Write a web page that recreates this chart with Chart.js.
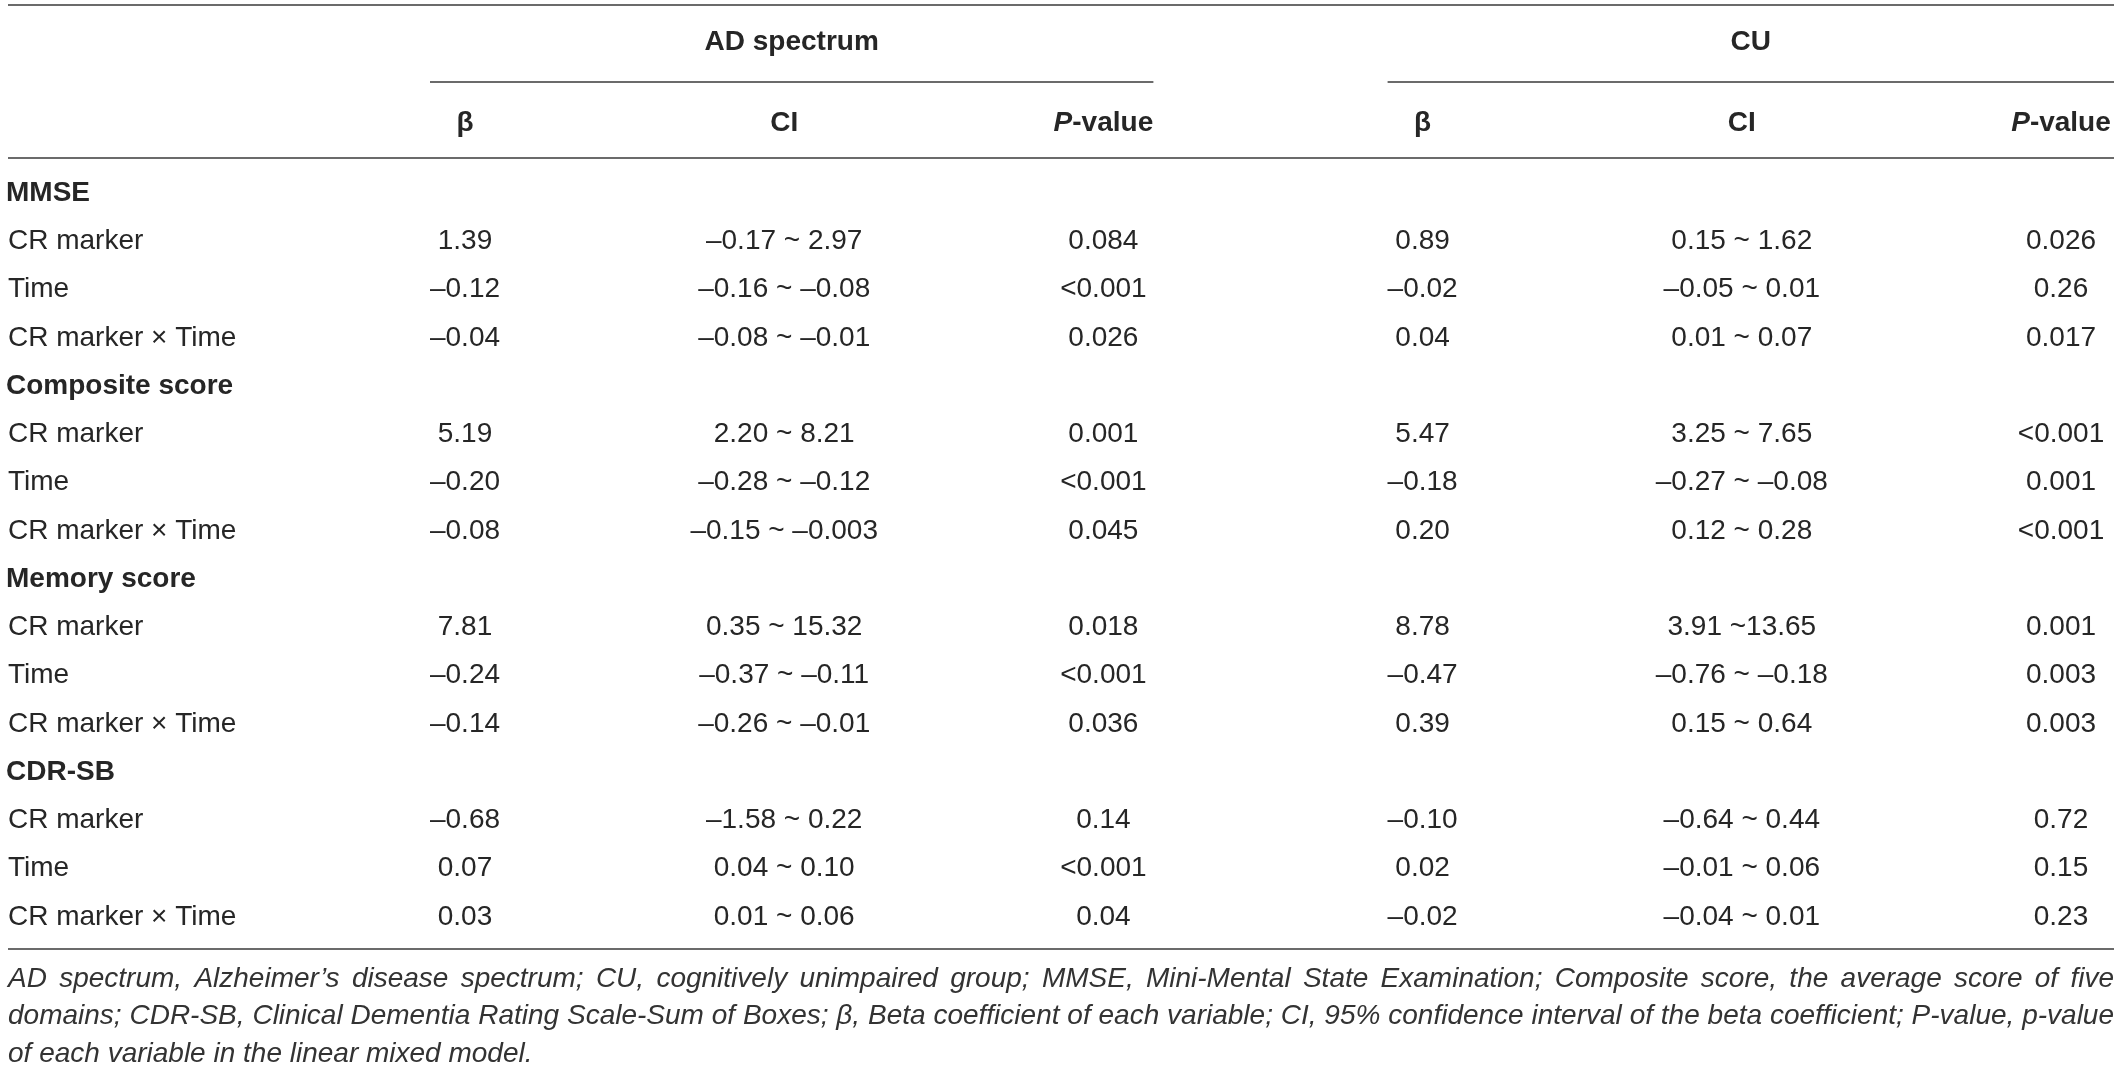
<!DOCTYPE html>
<html>
<head>
<meta charset="utf-8">
<script src="https://cdn.jsdelivr.net/npm/chart.js@4.4.0/dist/chart.umd.min.js"></script>
<style>
html, body { margin: 0; padding: 0; background: #ffffff; }
#wrap { position: relative; width: 2120px; height: 1068px; }
</style>
</head>
<body>
<div id="wrap"><canvas id="c"></canvas></div>
<script>
// ---------------- data ----------------
const groupHeaders = ['AD spectrum', 'CU'];
const columnKeys = ['AD β', 'AD CI', 'AD P', 'CU β', 'CU CI', 'CU P'];
const columnHeaders = ['β', 'CI', 'P-value', 'β', 'CI', 'P-value'];
const sectionLabels = ['MMSE', 'Composite score', 'Memory score', 'CDR-SB'];
const rowLabels = [
  'MMSE', 'CR marker', 'Time', 'CR marker × Time',
  'Composite score', 'CR marker', 'Time', 'CR marker × Time',
  'Memory score', 'CR marker', 'Time', 'CR marker × Time',
  'CDR-SB', 'CR marker', 'Time', 'CR marker × Time'
];
const adBeta = ['', '1.39', '–0.12', '–0.04', '', '5.19', '–0.20', '–0.08', '', '7.81', '–0.24', '–0.14', '', '–0.68', '0.07', '0.03'];
const adCI = ['', '–0.17 ~ 2.97', '–0.16 ~ –0.08', '–0.08 ~ –0.01', '', '2.20 ~ 8.21', '–0.28 ~ –0.12', '–0.15 ~ –0.003', '', '0.35 ~ 15.32', '–0.37 ~ –0.11', '–0.26 ~ –0.01', '', '–1.58 ~ 0.22', '0.04 ~ 0.10', '0.01 ~ 0.06'];
const adP = ['', '0.084', '<0.001', '0.026', '', '0.001', '<0.001', '0.045', '', '0.018', '<0.001', '0.036', '', '0.14', '<0.001', '0.04'];
const cuBeta = ['', '0.89', '–0.02', '0.04', '', '5.47', '–0.18', '0.20', '', '8.78', '–0.47', '0.39', '', '–0.10', '0.02', '–0.02'];
const cuCI = ['', '0.15 ~ 1.62', '–0.05 ~ 0.01', '0.01 ~ 0.07', '', '3.25 ~ 7.65', '–0.27 ~ –0.08', '0.12 ~ 0.28', '', '3.91 ~13.65', '–0.76 ~ –0.18', '0.15 ~ 0.64', '', '–0.64 ~ 0.44', '–0.01 ~ 0.06', '–0.04 ~ 0.01'];
const cuP = ['', '0.026', '0.26', '0.017', '', '<0.001', '0.001', '<0.001', '', '0.001', '0.003', '0.003', '', '0.72', '0.15', '0.23'];
const footnoteLines = [
  'AD spectrum, Alzheimer’s disease spectrum; CU, cognitively unimpaired group; MMSE, Mini-Mental State Examination; Composite score, the average score of five',
  'domains; CDR-SB, Clinical Dementia Rating Scale-Sum of Boxes; β, Beta coefficient of each variable; CI, 95% confidence interval of the beta coefficient; P-value, p-value',
  'of each variable in the linear mixed model.'
];

const columnData = [adBeta, adCI, adP, cuBeta, cuCI, cuP];
const rowKeys = rowLabels.map((l, i) => 'r' + i + ' ' + l);

// ---------------- styles ----------------
const FONT = '"Liberation Sans", Arial, Helvetica, sans-serif';
const TEXT = '#262626';
const RULE = '#6b6b6b';

const tablePlugin = {
  id: 'tablePlugin',
  beforeDraw(chart) {
    const ctx = chart.ctx;
    ctx.save();
    ctx.fillStyle = '#ffffff';
    ctx.fillRect(0, 0, chart.width, chart.height);
    ctx.restore();
  },
  afterDatasetsDraw(chart) {
    const ctx = chart.ctx;
    const xs = chart.scales.x;
    const ys = chart.scales.y;
    const area = chart.chartArea;
    const tableLeft = area.left - 457;
    const tableRight = area.right + 53;
    ctx.save();

    // horizontal rules
    ctx.strokeStyle = RULE;
    ctx.lineWidth = 2;
    const hline = (x1, x2, y) => {
      ctx.beginPath(); ctx.moveTo(x1, y); ctx.lineTo(x2, y); ctx.stroke();
    };
    hline(tableLeft, tableRight, area.top - 164);
    hline(tableLeft, tableRight, area.top - 11);
    hline(tableLeft, tableRight, area.bottom + 8);
    const groupSpan = gi => {
      const x1 = xs.getPixelForValue(gi * 3) - 35;
      const x2 = gi === groupHeaders.length - 1 ? tableRight : xs.getPixelForValue(gi * 3 + 2) + 50;
      return [x1, x2];
    };
    groupHeaders.forEach((g, gi) => {
      const [x1, x2] = groupSpan(gi);
      hline(x1, x2, area.top - 87);
    });

    ctx.fillStyle = TEXT;
    ctx.textBaseline = 'middle';

    // group headers
    ctx.font = 'bold 28px ' + FONT;
    ctx.textAlign = 'center';
    groupHeaders.forEach((g, gi) => {
      const [x1, x2] = groupSpan(gi);
      ctx.fillText(g, (x1 + x2) / 2, area.top - 127);
    });

    // column headers
    const subY = area.top - 46;
    columnHeaders.forEach((h, ci) => {
      const cx = xs.getPixelForValue(ci);
      if (h === 'P-value') {
        ctx.font = 'italic bold 28px ' + FONT;
        const w1 = ctx.measureText('P').width;
        ctx.font = 'bold 28px ' + FONT;
        const w2 = ctx.measureText('-value').width;
        const start = cx - (w1 + w2) / 2;
        ctx.textAlign = 'left';
        ctx.font = 'italic bold 28px ' + FONT;
        ctx.fillText('P', start, subY);
        ctx.font = 'bold 28px ' + FONT;
        ctx.fillText('-value', start + w1, subY);
      } else {
        ctx.textAlign = 'center';
        ctx.font = 'bold 28px ' + FONT;
        ctx.fillText(h, cx, subY);
      }
    });

    // row labels
    ctx.textAlign = 'left';
    rowLabels.forEach((lab, ri) => {
      const y = ys.getPixelForValue(ri);
      if (sectionLabels.includes(lab) && adBeta[ri] === '') {
        ctx.font = 'bold 28px ' + FONT;
        ctx.fillText(lab, tableLeft - 2, y);
      } else {
        ctx.font = '28px ' + FONT;
        ctx.fillText(lab, tableLeft, y);
      }
    });

    // cells, positioned by the dataset elements
    ctx.font = '28px ' + FONT;
    ctx.textAlign = 'center';
    chart.data.datasets.forEach((ds, di) => {
      const meta = chart.getDatasetMeta(di);
      meta.data.forEach((el, i) => {
        const txt = columnData[di][i];
        if (txt) ctx.fillText(txt, el.x, el.y);
      });
    });

    // footnote (justified)
    ctx.font = 'italic 28px ' + FONT;
    ctx.textAlign = 'left';
    ctx.fillStyle = '#333333';
    const avail = tableRight - tableLeft;
    const spaceW = ctx.measureText(' ').width;
    footnoteLines.forEach((line, li) => {
      const y = area.bottom + 38 + li * 37.5;
      const words = line.split(' ');
      const widths = words.map(w => ctx.measureText(w).width);
      const total = widths.reduce((a, b) => a + b, 0);
      const natural = total + spaceW * (words.length - 1);
      const sx = natural > avail ? avail / natural : 1;
      ctx.save();
      ctx.translate(tableLeft, y);
      ctx.scale(sx, 1);
      let gap = spaceW;
      if (li < footnoteLines.length - 1 && sx === 1) {
        gap = (avail - total) / (words.length - 1);
      }
      let x = 0;
      words.forEach((w, wi) => { ctx.fillText(w, x, 0); x += widths[wi] + gap; });
      ctx.restore();
    });

    ctx.restore();
  }
};

new Chart(document.getElementById('c'), {
  type: 'scatter',
  data: {
    datasets: columnData.map((col, ci) => ({
      label: columnKeys[ci],
      data: col.map((v, ri) => ({ x: columnKeys[ci], y: rowKeys[ri] })),
      pointRadius: 0,
      pointHoverRadius: 0,
      showLine: false
    }))
  },
  options: {
    responsive: true,
    maintainAspectRatio: false,
    animation: false,
    events: [],
    layout: { padding: { left: 465, right: 59, top: 169, bottom: 127 } },
    scales: {
      x: { type: 'category', labels: columnKeys, offset: false, display: false },
      y: { type: 'category', labels: rowKeys, offset: true, display: false }
    },
    plugins: { legend: { display: false }, tooltip: { enabled: false }, title: { display: false } }
  },
  plugins: [tablePlugin]
});
</script>
</body>
</html>
